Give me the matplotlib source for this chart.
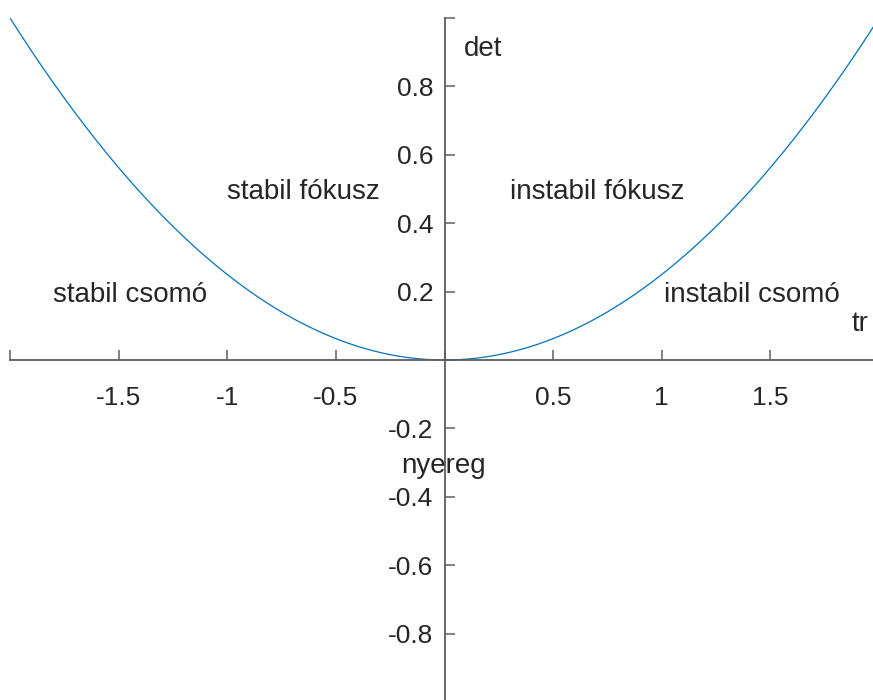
import numpy as np
import matplotlib.pyplot as plt

plt.rcParams['font.family'] = ['Liberation Sans', 'DejaVu Sans']

# boundary between nodes and foci: det = tr^2 / 4
tr = np.linspace(-2, 2, 401)
det = tr ** 2 / 4

xticks = [-2, -1.5, -1, -0.5, 0, 0.5, 1, 1.5, 2]
xticklabels = ['', '-1.5', '-1', '-0.5', '', '0.5', '1', '1.5', '']
yticks = [-1, -0.8, -0.6, -0.4, -0.2, 0, 0.2, 0.4, 0.6, 0.8, 1]
yticklabels = ['', '-0.8', '-0.6', '-0.4', '-0.2', '', '0.2', '0.4', '0.6', '0.8', '']

regions = ['stabil csomó', 'stabil fókusz', 'instabil fókusz', 'instabil csomó', 'nyereg']
region_x = [-1.8, -1.0, 0.30, 1.01, -0.2]
region_y = [0.19, 0.49, 0.49, 0.19, -0.31]

axcol = '#5e5e5e'
txtcol = '#262626'

fig = plt.figure(figsize=(8.73, 7.0), dpi=100)
ax = fig.add_axes([10 / 873, -2 / 700, 869 / 873, 684 / 700])

ax.plot(tr, det, color='#0072bd', lw=0.9)

ax.set_xlim(-2, 2)
ax.set_ylim(-1, 1)
ax.spines['left'].set_position(('data', 0))
ax.spines['bottom'].set_position(('data', 0))
ax.spines['right'].set_visible(False)
ax.spines['top'].set_visible(False)
for s in ('left', 'bottom'):
    ax.spines[s].set_color(axcol)
    ax.spines[s].set_linewidth(1.3)

ax.set_xticks(xticks)
ax.set_xticklabels(xticklabels)
ax.set_yticks(yticks)
ax.set_yticklabels(yticklabels)
ax.tick_params(axis='x', direction='in', length=7, width=1.1, color=axcol,
               labelsize=19, labelcolor=txtcol, pad=19)
ax.tick_params(axis='y', direction='in', length=7, width=1.1, color=axcol,
               labelsize=19, labelcolor=txtcol, pad=8)

ax.text(0.09, 0.91, 'det', fontsize=20, color=txtcol, ha='left', va='center')
ax.text(1.875, 0.105, 'tr', fontsize=20, color=txtcol, ha='left', va='center')
for name, x, y in zip(regions, region_x, region_y):
    ax.text(x, y, name, fontsize=20, color=txtcol, ha='left', va='center')

fig.savefig('out.png', dpi=100)
